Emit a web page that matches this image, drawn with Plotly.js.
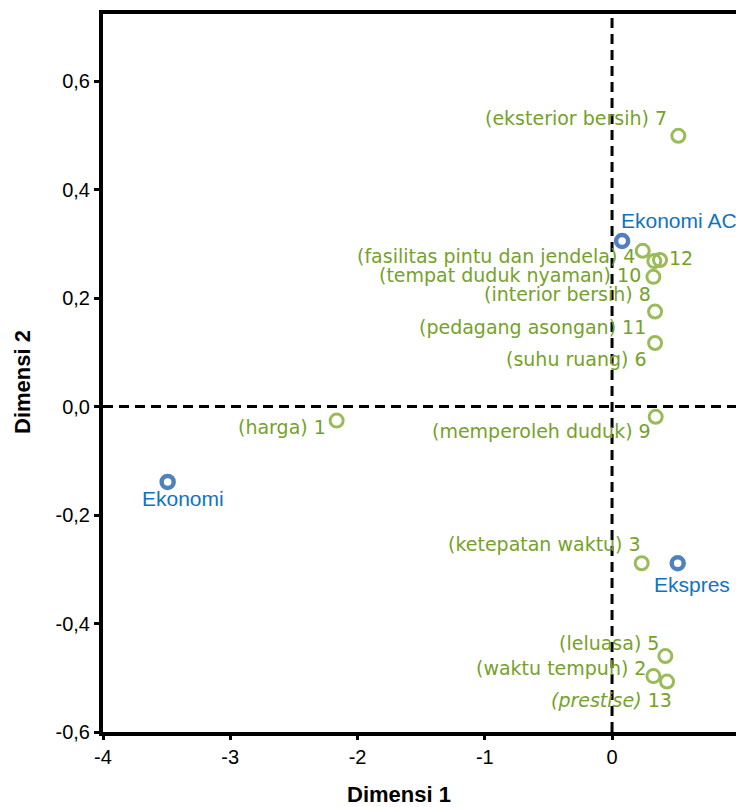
<!DOCTYPE html>
<html>
<head>
<meta charset="utf-8">
<script src="https://cdn.plot.ly/plotly-3.0.1.min.js"></script>
<style>
  html, body { margin: 0; padding: 0; background: #ffffff; }
  #chart { width: 736px; height: 807px; }
</style>
</head>
<body>
<div id="chart"></div>
<script>
// ---- Data ----
const attrLabels = [
  '(harga) 1',
  '(waktu tempuh) 2',
  '(ketepatan waktu) 3',
  '(fasilitas pintu dan jendela) 4',
  '(leluasa) 5',
  '(suhu ruang) 6',
  '(eksterior bersih) 7',
  '(interior bersih) 8',
  '(memperoleh duduk) 9',
  '(tempat duduk nyaman) 10',
  '(pedagang asongan) 11',
  '12',
  '<i>(prestise)</i> 13'
];
const attrDim1 = [-2.164, 0.325, 0.233, 0.241, 0.419, 0.338, 0.521, 0.325, 0.343, 0.332, 0.338, 0.377, 0.432];
const attrDim2 = [-0.026, -0.497, -0.289, 0.287, -0.460, 0.117, 0.499, 0.239, -0.019, 0.268, 0.175, 0.270, -0.507];

const classLabels = ['Ekonomi', 'Ekonomi AC', 'Ekspres'];
const classDim1 = [-3.492, 0.079, 0.516];
const classDim2 = [-0.139, 0.305, -0.289];

const xTickVals = [-4, -3, -2, -1, 0];
const xTickText = ['-4', '-3', '-2', '-1', '0'];
const yTickVals = [-0.6, -0.4, -0.2, 0.0, 0.2, 0.4, 0.6];
const yTickText = ['-0,6', '-0,4', '-0,2', '0,0', '0,2', '0,4', '0,6'];

// ---- Label placement (pixel offsets from each point; styling only) ----
const attrLabelPos = [
  {a: 'right', dx: -10, dy: -6},
  {a: 'right', dx: -6.6, dy: 8},
  {a: 'right', dx: 0, dy: 19.3},
  {a: 'right', dx: -6.7, dy: -5},
  {a: 'right', dx: -5.3, dy: 13.3},
  {a: 'right', dx: -6.7, dy: -16.3},
  {a: 'right', dx: -10, dy: 18},
  {a: 'right', dx: -1.6, dy: -17.3},
  {a: 'right', dx: -4, dy: -14},
  {a: 'right', dx: -12.6, dy: -14},
  {a: 'right', dx: -8.3, dy: -15},
  {a: 'left', dx: 8, dy: 2},
  {a: 'right', dx: 6.3, dy: -18.3}
];
const classLabelPos = [
  {a: 'center', dx: 15.6, dy: -16.6},
  {a: 'left', dx: -2, dy: 21},
  {a: 'left', dx: -24.4, dy: -21}
];

const greenText = '#76a12a';
const greenMarker = '#9bbb59';
const blueText = '#1073c2';
const blueMarker = '#4f81bd';

const traces = [
  {
    type: 'scatter', mode: 'markers',
    x: attrDim1, y: attrDim2,
    marker: {symbol: 'circle-open', size: 13, color: greenMarker, line: {width: 3, color: greenMarker}},
    hoverinfo: 'skip', showlegend: false, cliponaxis: false
  },
  {
    type: 'scatter', mode: 'markers',
    x: classDim1, y: classDim2,
    marker: {symbol: 'circle-open', size: 12, color: blueMarker, line: {width: 4.5, color: blueMarker}},
    hoverinfo: 'skip', showlegend: false, cliponaxis: false
  }
];

const annotations = [];
attrLabels.forEach((t, i) => {
  const p = attrLabelPos[i];
  annotations.push({
    x: attrDim1[i], y: attrDim2[i], xref: 'x', yref: 'y',
    text: t, showarrow: false, xanchor: p.a, yanchor: 'middle',
    xshift: p.dx, yshift: p.dy, borderpad: 0,
    font: {family: 'DejaVu Sans, Verdana, sans-serif', size: 19, color: greenText}
  });
});
classLabels.forEach((t, i) => {
  const p = classLabelPos[i];
  annotations.push({
    x: classDim1[i], y: classDim2[i], xref: 'x', yref: 'y',
    text: t, showarrow: false, xanchor: p.a, yanchor: 'middle',
    xshift: p.dx, yshift: p.dy, borderpad: 0,
    font: {family: 'Liberation Sans, Arial, sans-serif', size: 21, color: blueText}
  });
});
// axis titles
annotations.push({
  xref: 'paper', yref: 'paper', x: 0.4676, y: 0, xanchor: 'center', yanchor: 'middle',
  yshift: -62, text: '<b>Dimensi 1</b>', showarrow: false, borderpad: 0,
  font: {family: 'Liberation Sans, Arial, sans-serif', size: 22, color: '#000000'}
});
annotations.push({
  xref: 'paper', yref: 'paper', x: 0, y: 0.4875, xanchor: 'center', yanchor: 'middle',
  xshift: -80, text: '<b>Dimensi 2</b>', showarrow: false, textangle: -90, borderpad: 0,
  font: {family: 'Liberation Sans, Arial, sans-serif', size: 22, color: '#000000'}
});

const layout = {
  width: 736, height: 807,
  margin: {l: 103, r: 0, t: 14, b: 75, pad: 0},
  paper_bgcolor: '#ffffff', plot_bgcolor: '#ffffff',
  showlegend: false,
  xaxis: {
    range: [-4, 0.974], tickmode: 'array', tickvals: xTickVals, ticktext: xTickText,
    showgrid: false, zeroline: false,
    showline: true, linewidth: 4, linecolor: '#000000', mirror: true,
    ticks: 'outside', ticklen: 4, tickwidth: 3, tickcolor: '#000000',
    tickfont: {family: 'Liberation Sans, Arial, sans-serif', size: 20, color: '#000000'},
    fixedrange: true
  },
  yaxis: {
    range: [-0.6, 0.7235], tickmode: 'array', tickvals: yTickVals, ticktext: yTickText,
    showgrid: false, zeroline: false,
    showline: true, linewidth: 4, linecolor: '#000000', mirror: false,
    ticks: 'outside', ticklen: 5, tickwidth: 3, tickcolor: '#000000',
    tickfont: {family: 'Liberation Sans, Arial, sans-serif', size: 20, color: '#000000'},
    fixedrange: true
  },
  shapes: [
    {type: 'line', xref: 'x', yref: 'paper', x0: 0, x1: 0, y0: 0, y1: 1,
     line: {color: '#000000', width: 3, dash: '10px,6px'}, layer: 'above'},
    {type: 'line', xref: 'paper', yref: 'y', x0: 0, x1: 1, y0: 0, y1: 0,
     line: {color: '#000000', width: 3, dash: '10px,6px'}, layer: 'above'}
  ],
  annotations: annotations
};

Plotly.newPlot('chart', traces, layout, {staticPlot: true, displayModeBar: false});
</script>
</body>
</html>
